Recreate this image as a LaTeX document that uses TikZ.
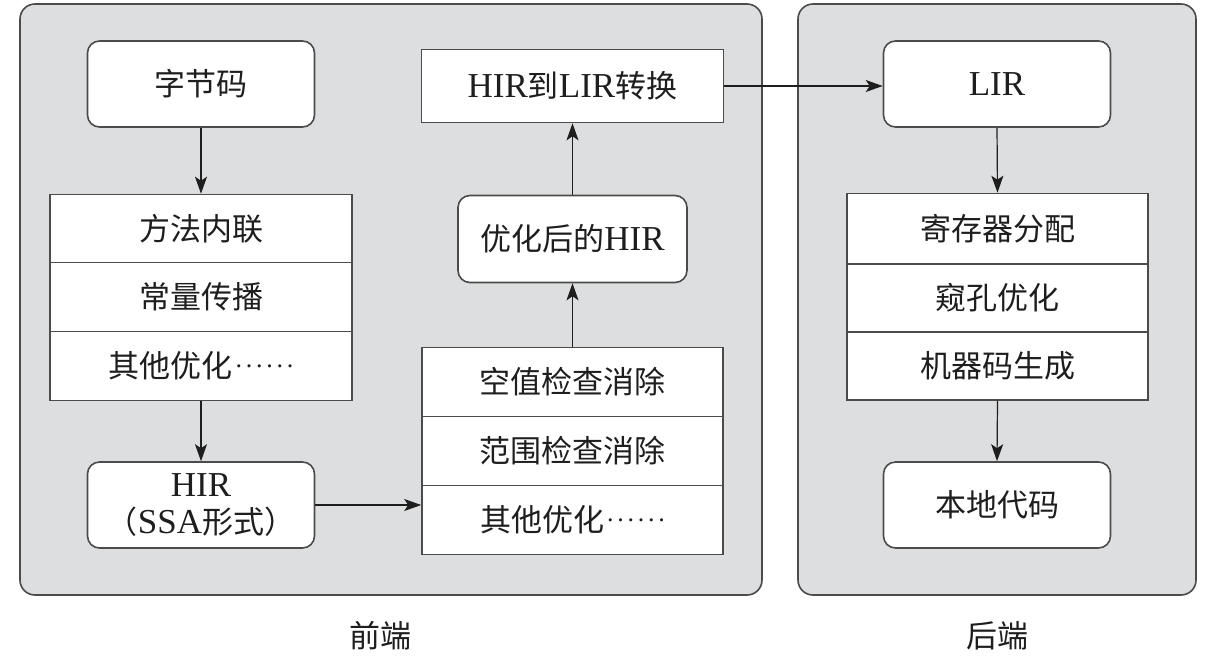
\documentclass[tikz,border=0pt]{standalone}
\usepackage{fontspec}
\setmainfont{Liberation Serif}
\newfontfamily\cjk{Noto Sans CJK SC}
\usetikzlibrary{arrows.meta}
\definecolor{panelgray}{RGB}{221,222,223}
\definecolor{edgegray}{RGB}{75,75,75}
\definecolor{inkc}{RGB}{30,30,30}
\newcommand\latx[1]{{\fontsize{35}{38}\selectfont\rmfamily #1}}
\newcommand\dotsx{\hspace{3pt}\raisebox{0.32em}{\rmfamily\fontsize{26}{30}\selectfont\makebox[58pt][s]{.\hfill.\hfill.\hfill.\hfill.\hfill.}}}
\begin{document}
\begin{tikzpicture}[x=1pt,y=-1pt,
  every node/.style={text=inkc, font=\fontsize{31}{36}\selectfont\cjk},
  panel/.style={draw=edgegray, fill=panelgray, line width=1.6pt, rounded corners=15pt},
  rbox/.style={draw=edgegray, fill=white, line width=1.6pt, rounded corners=12pt,
     minimum width=227pt, minimum height=86pt, inner sep=0pt, align=center},
  cell/.style={draw=edgegray, fill=white, line width=1.6pt,
     minimum width=302pt, minimum height=69pt, inner sep=0pt},
  conn/.style={draw=inkc, line width=1.2pt, -{Stealth[length=17pt,width=12pt,inset=4pt]}},
  caption/.style={font=\fontsize{31}{36}\selectfont\cjk}
]
\useasboundingbox (0,0) rectangle (1214,662);
% panels
\draw[panel] (20,4) rectangle (762,595);
\draw[panel] (798,4) rectangle (1196,595);
\node[caption] (lfront) at (380,636) {前端};
\node[caption] (lback) at (997,636) {后端};

% front end, left column
\node[rbox] (bc) at (201,84) {字节码};
\node[cell] (s1a) at (201,229) {方法内联};
\node[cell] (s1b) at (201,297) {常量传播};
\node[cell] (s1c) at (201,366) {其他优化\dotsx};
\node[rbox, font=\fontsize{31}{37}\selectfont\cjk] (hir) at (201,505) {\latx{HIR}\\（\latx{SSA}形式）};

% front end, right column
\node[cell, minimum height=73pt] (conv) at (572.5,86) {\latx{HIR}到\latx{LIR}转换};
\node[rbox, minimum width=229pt, minimum height=87pt] (opt) at (572.5,239) {优化后的\latx{HIR}};
\node[cell, minimum width=301pt] (s2a) at (572.5,382) {空值检查消除};
\node[cell, minimum width=301pt] (s2b) at (572.5,451) {范围检查消除};
\node[cell, minimum width=301pt] (s2c) at (572.5,520) {其他优化\dotsx};

% back end
\node[rbox] (lir) at (997,84) {\latx{LIR}};
\node[cell, minimum width=301pt, minimum height=71pt] (s3a) at (997.5,229) {寄存器分配};
\node[cell, minimum width=301pt, minimum height=68pt] (s3b) at (997.5,298) {窥孔优化};
\node[cell, minimum width=301pt, minimum height=68pt] (s3c) at (997.5,366) {机器码生成};
\node[rbox] (nc) at (997,505) {本地代码};

% connectors
\draw[conn] (bc.south) -- (s1a.north);
\draw[conn] (s1c.south) -- (hir.north);
\draw[conn] (hir.east) -- (hir.east -| s2c.west);
\draw[conn] (s2a.north) -- (opt.south);
\draw[conn] (opt.north) -- (conv.south);
\draw[conn] (conv.east) -- (conv.east -| lir.west);
\draw[conn] (lir.south) -- (s3a.north);
\draw[conn] (s3c.south) -- (nc.north);
\end{tikzpicture}
\end{document}
